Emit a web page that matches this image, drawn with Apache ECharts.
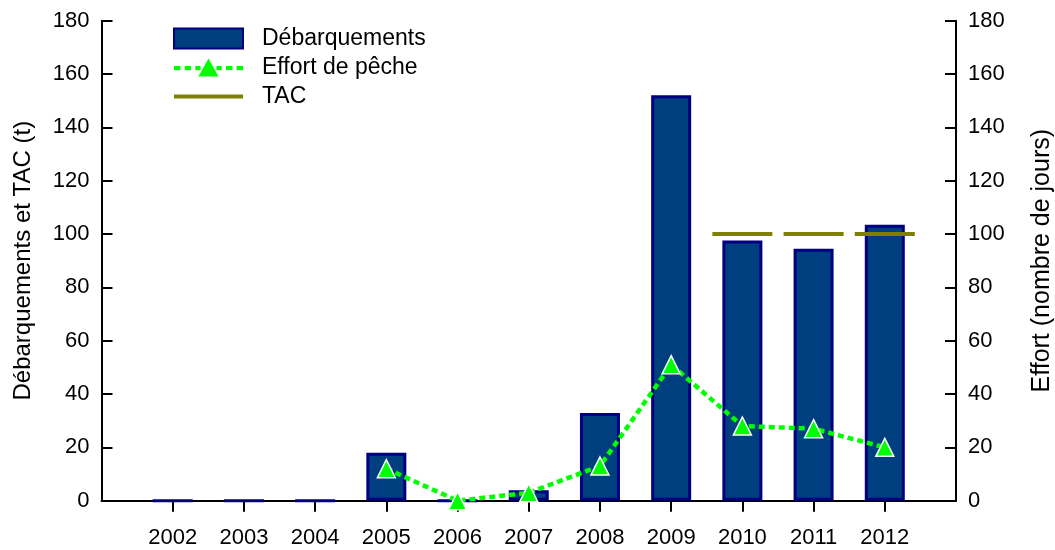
<!DOCTYPE html>
<html>
<head>
<meta charset="utf-8">
<script src="https://cdn.jsdelivr.net/npm/echarts@6/dist/echarts.min.js"></script>
<style>
  html, body { margin: 0; padding: 0; background: #fff; }
  #main { width: 1055px; height: 550px; }
</style>
</head>
<body>
<div id="main"></div>
<script>
// axe des x : une case vide de chaque côté
const years = ['', '2002', '2003', '2004', '2005', '2006', '2007', '2008', '2009', '2010', '2011', '2012', ''];
// débarquements (t)
const landings = [null, 0, 0, 0, 18, 0, 3.9, 32.9, 152, 97.6, 94.5, 103.5, null];
// effort de pêche (nombre de jours)
const effort = [null, null, null, null, 12, 0, 3, 13, 51, 28, 27, 20, null];
// TAC (t)
const tac = [null, null, null, null, null, null, null, null, null, 100, 100, 100, null];
const yTicks = { min: 0, max: 180, interval: 20 };

const font = 'Liberation Sans, Arial, sans-serif';
const myChart = echarts.init(document.getElementById('main'));

// icône de légende : tirets + triangle
const effortIcon = 'path://M0,7h6v4h-6z M10,7h6v4h-6z M20,7h5v4h-5z M40,7h5v4h-5z M49,7h6v4h-6z M59,7h6v4h-6z M32.5,0L42,17L23,17Z';

const yAxisCommon = {
    type: 'value',
    min: yTicks.min,
    max: yTicks.max,
    interval: yTicks.interval,
    nameLocation: 'middle',
    axisLine: { show: true, lineStyle: { color: '#000', width: 2 } },
    axisTick: { show: true, inside: true, length: 11, lineStyle: { color: '#000', width: 2 } },
    axisLabel: { fontSize: 22, fontFamily: font, color: '#000', margin: 12 },
    splitLine: { show: false }
};

myChart.setOption({
    animation: false,
    grid: { left: 101.5, right: 99, top: 20.7, bottom: 49.3, containLabel: false, outerBoundsMode: 'none' },
    legend: {
        orient: 'vertical',
        left: 168,
        top: 22,
        itemWidth: 69,
        itemHeight: 20,
        itemGap: 6,
        textStyle: { fontSize: 23, fontFamily: font, color: '#000', padding: [0, 0, 0, 14] },
        data: [
            { name: 'Débarquements', icon: 'rect' },
            { name: 'Effort de pêche', icon: effortIcon, itemStyle: { borderWidth: 0 } },
            { name: 'TAC', icon: 'path://M0,0L65,0L65,4L0,4Z' }
        ]
    },
    xAxis: {
        type: 'category',
        data: years,
        boundaryGap: false,
        axisLine: { lineStyle: { color: '#000', width: 2 } },
        axisTick: {
            length: 11,
            interval: function (i, v) { return v !== ''; },
            lineStyle: { color: '#000', width: 2 }
        },
        axisLabel: { fontSize: 22, fontFamily: font, color: '#000', margin: 26, interval: 0 }
    },
    yAxis: [
        Object.assign({}, yAxisCommon, {
            name: 'Débarquements et TAC (t)', nameGap: 66, position: 'left',
            nameTextStyle: { fontSize: 24, fontFamily: font, color: '#000' }
        }),
        Object.assign({}, yAxisCommon, {
            name: 'Effort (nombre de jours)', nameGap: 74, position: 'right',
            nameTextStyle: { fontSize: 25, fontFamily: font, color: '#000' }
        })
    ],
    series: [
        {
            name: 'Débarquements',
            type: 'bar',
            data: landings,
            barWidth: 40,
            itemStyle: { color: '#003f7f', borderColor: '#000080', borderWidth: 3 }
        },
        {
            name: 'TAC',
            type: 'scatter',
            data: tac,
            symbol: 'rect',
            symbolSize: [60, 4],
            itemStyle: { color: '#808000', opacity: 1 },
            z: 3
        },
        {
            name: 'Effort de pêche',
            type: 'line',
            yAxisIndex: 1,
            data: effort,
            symbol: 'triangle',
            symbolSize: 18,
            lineStyle: { color: '#00ff00', width: 4.5, type: [6, 4] },
            itemStyle: { color: '#00ff00', borderColor: '#fff', borderWidth: 1.5 },
            z: 4
        }
    ]
});
</script>
</body>
</html>
